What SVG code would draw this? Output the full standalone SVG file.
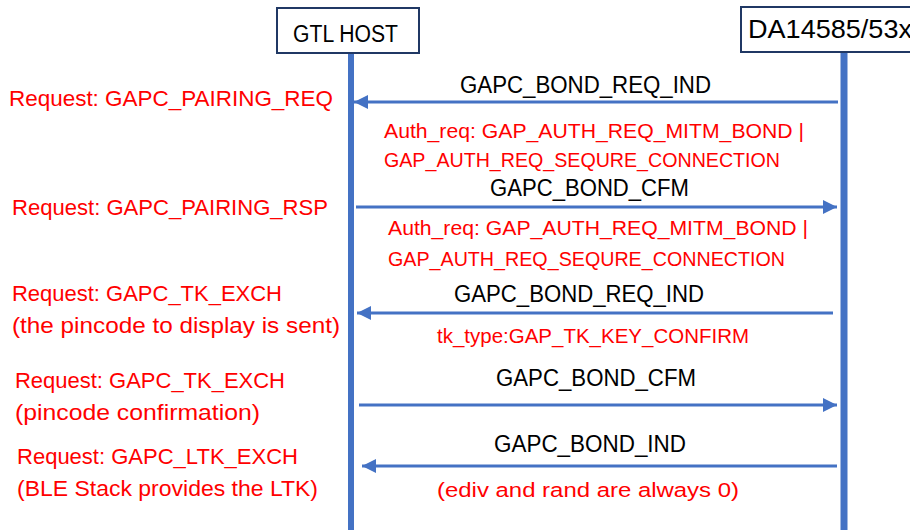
<svg xmlns="http://www.w3.org/2000/svg" width="910" height="530" viewBox="0 0 910 530">
<style>
.box{fill:#fff;stroke:#203864;stroke-width:2}
.life{stroke:#4472C4;fill:none}
.msg{stroke:#4472C4;stroke-width:3;fill:none;marker-end:url(#ah)}
.blk{font-family:"Liberation Sans",Arial,sans-serif;font-size:23.5px;fill:#000}
.red{font-family:"Liberation Sans",Arial,sans-serif;font-size:21.5px;fill:#FF0000}
.note{font-family:"Liberation Sans",Arial,sans-serif;font-size:20.5px;fill:#FF0000}
</style>
<defs>
<marker id="ah" markerUnits="userSpaceOnUse" markerWidth="15" markerHeight="15" refX="14" refY="7" orient="auto">
<path d="M0,0 L14,7 L0,14 Z" fill="#4472C4"/>
</marker>
</defs>
<rect width="910" height="530" fill="#fff"/>
<g id="host">
<line class="life" x1="351" y1="53" x2="351" y2="530" stroke-width="6"/>
<rect class="box" x="277" y="8" width="142" height="45"/>
<text class="blk" x="293" y="42" textLength="105" lengthAdjust="spacingAndGlyphs">GTL HOST</text>
</g>
<g id="device">
<line class="life" x1="844" y1="52" x2="844" y2="530" stroke-width="7"/>
<rect class="box" x="741" y="7" width="180" height="45"/>
<text class="blk" x="748" y="38" style="font-size:26px" textLength="164" lengthAdjust="spacingAndGlyphs">DA14585/53x</text>
</g>
<g id="connectors">
<line class="msg" x1="838" y1="102" x2="354" y2="102"/>
<line class="msg" x1="356" y1="207" x2="837" y2="207"/>
<line class="msg" x1="833" y1="313" x2="357" y2="313"/>
<line class="msg" x1="359" y1="405" x2="837" y2="405"/>
<line class="msg" x1="837" y1="466" x2="362" y2="466"/>
</g>
<g id="messages">
<text class="blk" x="460" y="93" textLength="251" lengthAdjust="spacingAndGlyphs">GAPC_BOND_REQ_IND</text>
<text class="note" x="384" y="138" textLength="420" lengthAdjust="spacingAndGlyphs">Auth_req: GAP_AUTH_REQ_MITM_BOND |</text>
<text class="note" x="384" y="167" textLength="396" lengthAdjust="spacingAndGlyphs">GAP_AUTH_REQ_SEQURE_CONNECTION</text>
<text class="blk" x="490" y="196" textLength="199" lengthAdjust="spacingAndGlyphs">GAPC_BOND_CFM</text>
<text class="note" x="388" y="235" textLength="420" lengthAdjust="spacingAndGlyphs">Auth_req: GAP_AUTH_REQ_MITM_BOND |</text>
<text class="note" x="388" y="266" textLength="397" lengthAdjust="spacingAndGlyphs">GAP_AUTH_REQ_SEQURE_CONNECTION</text>
<text class="blk" x="454" y="302" textLength="250" lengthAdjust="spacingAndGlyphs">GAPC_BOND_REQ_IND</text>
<text class="note" x="437" y="343" textLength="312" lengthAdjust="spacingAndGlyphs">tk_type:GAP_TK_KEY_CONFIRM</text>
<text class="blk" x="496" y="386" textLength="200" lengthAdjust="spacingAndGlyphs">GAPC_BOND_CFM</text>
<text class="blk" x="494" y="452" textLength="192" lengthAdjust="spacingAndGlyphs">GAPC_BOND_IND</text>
<text class="note" x="437" y="497" textLength="302" lengthAdjust="spacingAndGlyphs">(ediv and rand are always 0)</text>
</g>
<g id="requests">
<text class="red" x="9" y="106" textLength="324" lengthAdjust="spacingAndGlyphs">Request: GAPC_PAIRING_REQ</text>
<text class="red" x="12" y="215" textLength="316" lengthAdjust="spacingAndGlyphs">Request: GAPC_PAIRING_RSP</text>
<text class="red" x="12" y="301" textLength="270" lengthAdjust="spacingAndGlyphs">Request: GAPC_TK_EXCH</text>
<text class="red" x="12" y="333" textLength="328" lengthAdjust="spacingAndGlyphs">(the pincode to display is sent)</text>
<text class="red" x="15" y="388" textLength="270" lengthAdjust="spacingAndGlyphs">Request: GAPC_TK_EXCH</text>
<text class="red" x="15" y="420" textLength="245" lengthAdjust="spacingAndGlyphs">(pincode confirmation)</text>
<text class="red" x="17" y="464" textLength="281" lengthAdjust="spacingAndGlyphs">Request: GAPC_LTK_EXCH</text>
<text class="red" x="17" y="496" textLength="301" lengthAdjust="spacingAndGlyphs">(BLE Stack provides the LTK)</text>
</g>
</svg>
